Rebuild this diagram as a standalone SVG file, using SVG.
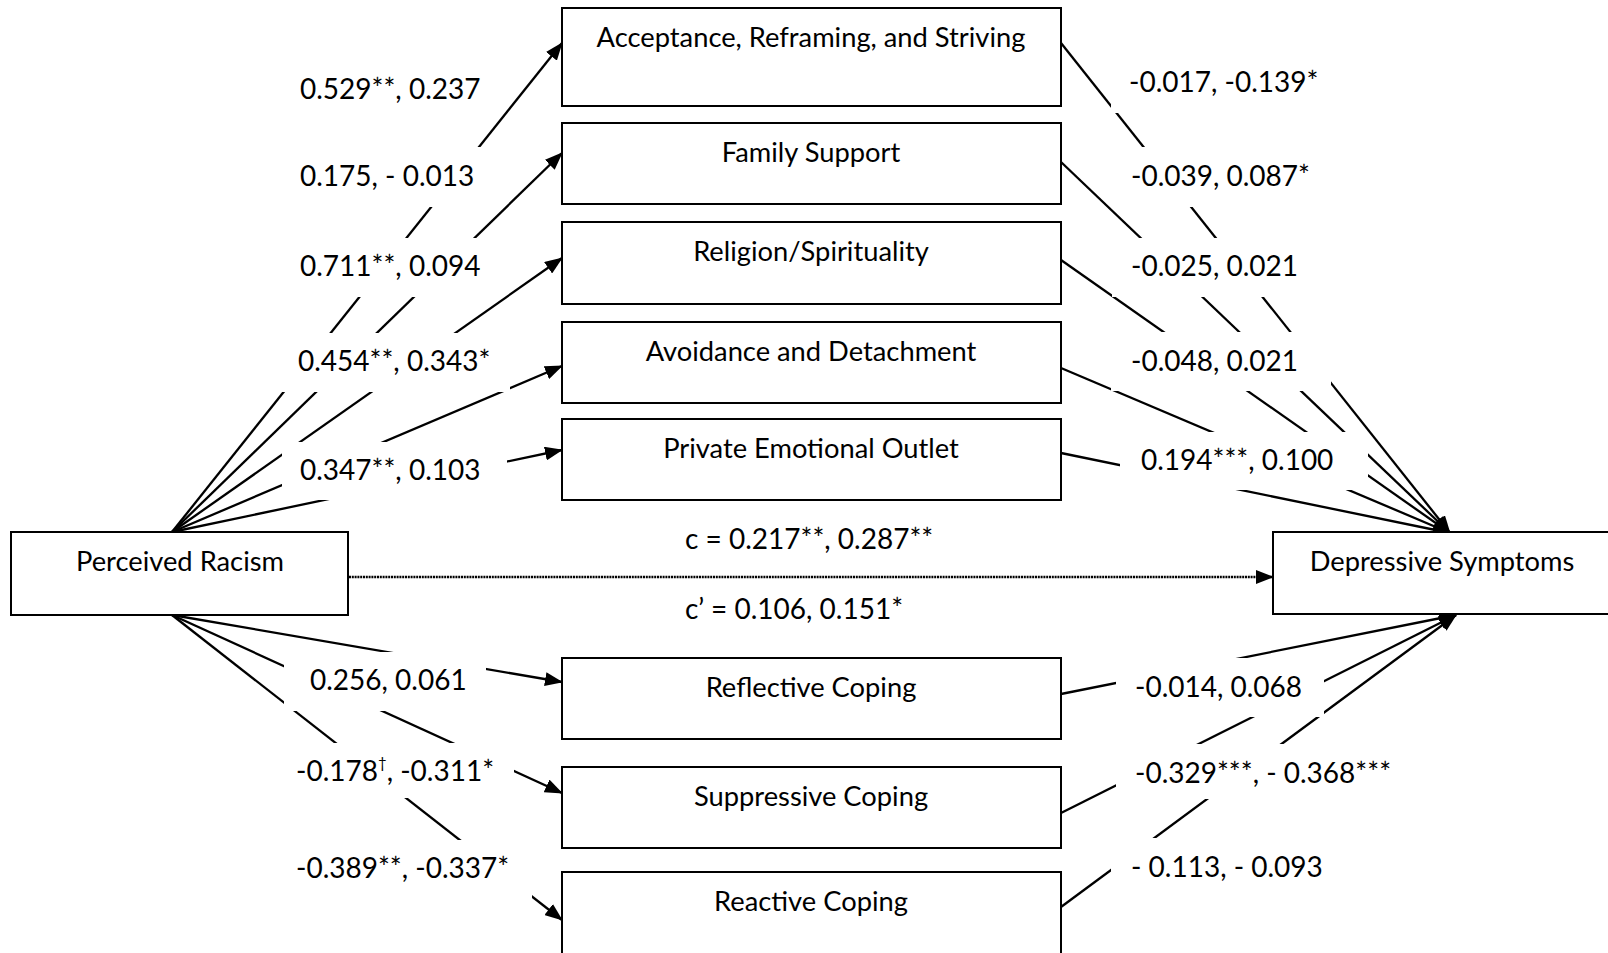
<svg xmlns="http://www.w3.org/2000/svg" width="1608" height="953" viewBox="0 0 1608 953">
<defs>
<marker id="ah" markerUnits="userSpaceOnUse" markerWidth="18" markerHeight="14" refX="17" refY="7" orient="auto">
<path d="M0,0 L18,7 L0,14 z" fill="#000"/>
</marker>
<style>
.box{fill:#fff;stroke:#000;stroke-width:2}
.ln{stroke:#000;stroke-width:2.3;fill:none;marker-end:url(#ah)}
.dot{stroke:#000;stroke-width:2.6;fill:none;stroke-dasharray:2 0.8;marker-end:url(#ah)}
.mask{fill:#fff;stroke:none}
text{font-family:Lato,"Liberation Sans",sans-serif;font-size:28px;fill:#000}
.c{text-anchor:middle;font-size:27.3px}
</style>
</defs>
<rect width="1608" height="953" fill="#fff"/>
<g id="connectors">
<line class="ln" x1="172" y1="532" x2="562" y2="43"/>
<line class="ln" x1="172" y1="532" x2="562" y2="153"/>
<line class="ln" x1="172" y1="532" x2="562" y2="258"/>
<line class="ln" x1="172" y1="532" x2="562" y2="366"/>
<line class="ln" x1="172" y1="532" x2="562" y2="450"/>
<line class="ln" x1="172" y1="615" x2="562" y2="682"/>
<line class="ln" x1="172" y1="615" x2="562" y2="793"/>
<line class="ln" x1="172" y1="615" x2="562" y2="920"/>
<line class="ln" x1="1061" y1="43" x2="1450" y2="533"/>
<line class="ln" x1="1061" y1="162" x2="1450" y2="533"/>
<line class="ln" x1="1061" y1="260" x2="1450" y2="533"/>
<line class="ln" x1="1061" y1="368" x2="1450" y2="533"/>
<line class="ln" x1="1061" y1="453" x2="1450" y2="533"/>
<line class="ln" x1="1061" y1="694" x2="1456" y2="615"/>
<line class="ln" x1="1061" y1="813" x2="1456" y2="615"/>
<line class="ln" x1="1061" y1="907" x2="1456" y2="615"/>
<line class="dot" x1="349" y1="577" x2="1273" y2="577"/>
</g>
<g id="label-masks">
<rect class="mask" x="282" y="58" width="213" height="60"/>
<rect class="mask" x="282" y="147" width="213" height="60"/>
<rect class="mask" x="282" y="238" width="213" height="59"/>
<rect class="mask" x="282" y="333" width="228" height="59"/>
<rect class="mask" x="282" y="442" width="225" height="58"/>
<rect class="mask" x="284" y="652" width="202" height="59"/>
<rect class="mask" x="284" y="743" width="230" height="55"/>
<rect class="mask" x="284" y="840" width="248" height="59"/>
<rect class="mask" x="1111" y="54" width="220" height="59"/>
<rect class="mask" x="1111" y="147" width="220" height="60"/>
<rect class="mask" x="1112" y="238" width="220" height="59"/>
<rect class="mask" x="1111" y="332" width="220" height="59"/>
<rect class="mask" x="1120" y="432" width="248" height="58"/>
<rect class="mask" x="1116" y="658" width="208" height="59"/>
<rect class="mask" x="1116" y="744" width="284" height="55"/>
<rect class="mask" x="1111" y="838" width="230" height="59"/>
</g>
<g id="node-perceived-racism">
<rect class="box" x="11" y="532" width="337" height="83"/>
<text class="c" x="180" y="571">Perceived Racism</text>
</g>
<g id="node-depressive-symptoms">
<rect class="box" x="1273" y="532" width="345" height="82"/>
<text class="c" x="1442" y="571">Depressive Symptoms</text>
</g>
<g id="node-acceptance">
<rect class="box" x="562" y="8" width="499" height="98"/>
<text class="c" x="811" y="47">Acceptance, Reframing, and Striving</text>
</g>
<g id="node-family">
<rect class="box" x="562" y="123" width="499" height="81"/>
<text class="c" x="811" y="162">Family Support</text>
</g>
<g id="node-religion">
<rect class="box" x="562" y="222" width="499" height="82"/>
<text class="c" x="811" y="261">Religion/Spirituality</text>
</g>
<g id="node-avoidance">
<rect class="box" x="562" y="322" width="499" height="81"/>
<text class="c" x="811" y="361">Avoidance and Detachment</text>
</g>
<g id="node-private">
<rect class="box" x="562" y="419" width="499" height="81"/>
<text class="c" x="811" y="458">Private Emotional Outlet</text>
</g>
<g id="node-reflective">
<rect class="box" x="562" y="658" width="499" height="81"/>
<text class="c" x="811" y="697">Reflective Coping</text>
</g>
<g id="node-suppressive">
<rect class="box" x="562" y="767" width="499" height="81"/>
<text class="c" x="811" y="806">Suppressive Coping</text>
</g>
<g id="node-reactive">
<rect class="box" x="562" y="872" width="499" height="95"/>
<text class="c" x="811" y="911">Reactive Coping</text>
</g>
<g id="path-labels">
<text x="300" y="99">0.529**, 0.237</text>
<text x="300" y="186">0.175, - 0.013</text>
<text x="300" y="276">0.711**, 0.094</text>
<text x="298" y="371">0.454**, 0.343*</text>
<text x="300" y="480">0.347**, 0.103</text>
<text x="310" y="690">0.256, 0.061</text>
<text x="296" y="781">-0.178<tspan font-size="15" dy="-13">†</tspan><tspan dy="13">, -0.311*</tspan></text>
<text x="296" y="878">-0.389**, -0.337*</text>
<text x="1129" y="92">-0.017, -0.139*</text>
<text x="1131" y="186">-0.039, 0.087*</text>
<text x="1131" y="276">-0.025, 0.021</text>
<text x="1131" y="371">-0.048, 0.021</text>
<text x="1141" y="470">0.194***, 0.100</text>
<text x="1135" y="697">-0.014, 0.068</text>
<text x="1135" y="783">-0.329***, - 0.368***</text>
<text x="1131" y="877">- 0.113, - 0.093</text>
<text x="685" y="549">c = 0.217**, 0.287**</text>
<text x="685" y="619">c’ = 0.106, 0.151*</text>
</g>
</svg>
